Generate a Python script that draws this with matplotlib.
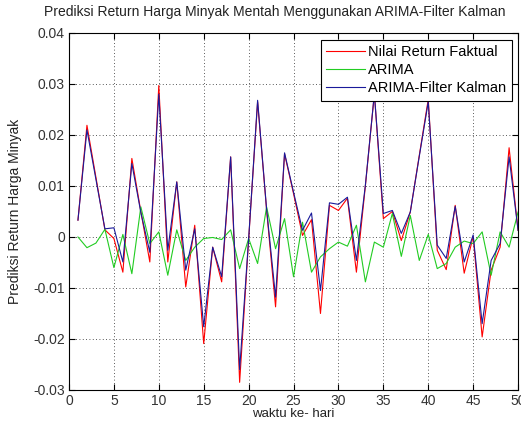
import numpy as np
import matplotlib
matplotlib.use("Agg")
import matplotlib.pyplot as plt

# data
hari = np.arange(1, 51)

faktual = [0.0033, 0.0219, 0.0117, 0.0014, -0.0003, -0.0069, 0.0154, 0.0050, -0.0049, 0.0297,
           -0.0049, 0.0108, -0.0098, 0.0023, -0.0209, -0.0020, -0.0088, 0.0157, -0.0285, -0.0006,
           0.0265, 0.0053, -0.0137, 0.0163, 0.0085, 0.0003, 0.0034, -0.0150, 0.0062, 0.0052,
           0.0076, -0.0069, 0.0100, 0.0281, 0.0036, 0.0050, -0.0007, 0.0049, 0.0160, 0.0270,
           -0.0026, -0.0064, 0.0062, -0.0071, 0.0001, -0.0196, -0.0065, -0.0020, 0.0175, 0.0013]

arima = [0.0000, -0.0021, -0.0012, 0.0015, -0.0060, 0.0005, -0.0072, 0.0059, -0.0013, 0.0010,
         -0.0075, 0.0014, -0.0046, -0.0020, -0.0003, -0.0001, -0.0005, 0.0014, -0.0062, -0.0003,
         -0.0052, 0.0059, -0.0023, 0.0036, -0.0078, 0.0029, -0.0069, -0.0039, -0.0023, -0.0010,
         -0.0018, 0.0023, -0.0088, -0.0010, -0.0020, 0.0046, -0.0038, 0.0042, -0.0046, 0.0005,
         -0.0062, -0.0052, -0.0020, -0.0008, -0.0013, 0.0010, -0.0075, 0.0010, -0.0020, 0.0049]

kalman = [0.0033, 0.0210, 0.0113, 0.0016, 0.0018, -0.0049, 0.0144, 0.0048, -0.0030, 0.0280,
          -0.0026, 0.0108, -0.0065, 0.0016, -0.0176, -0.0020, -0.0078, 0.0157, -0.0260, -0.0004,
          0.0268, 0.0055, -0.0118, 0.0165, 0.0088, 0.0013, 0.0047, -0.0105, 0.0067, 0.0064,
          0.0078, -0.0046, 0.0102, 0.0281, 0.0046, 0.0052, 0.0007, 0.0049, 0.0158, 0.0265,
          -0.0016, -0.0042, 0.0060, -0.0049, 0.0004, -0.0170, -0.0046, -0.0013, 0.0157, 0.0013]

xticks = [0, 5, 10, 15, 20, 25, 30, 35, 40, 45, 50]
yticks = [-0.03, -0.02, -0.01, 0, 0.01, 0.02, 0.03, 0.04]
yticklabels = ["-0.03", "-0.02", "-0.01", "0", "0.01", "0.02", "0.03", "0.04"]

plt.rcParams['font.family'] = ['Liberation Sans', 'DejaVu Sans']

fig = plt.figure(figsize=(5.21, 4.25), dpi=100)
ax = fig.add_axes([0.1324, 0.0824, 0.862, 0.84])

ax.plot(hari, faktual, color='#ff0000', lw=0.8, label='Nilai Return Faktual')
ax.plot(hari, arima, color='#22cc22', lw=0.8, label='ARIMA')
ax.plot(hari, kalman, color='#1a1a9a', lw=0.8, label='ARIMA-Filter Kalman')

ax.set_xlim(0, 50)
ax.set_ylim(-0.03, 0.04)
ax.set_xticks(xticks)
ax.set_yticks(yticks)
ax.set_yticklabels(yticklabels)
ax.tick_params(direction='in', labelsize=10, length=4, top=True, right=True,
               colors='black', labelcolor='#333333', pad=3)
ax.grid(True, linestyle=(0, (1, 3)), color='#222222', lw=0.6)

for s in ax.spines.values():
    s.set_linewidth(0.8)

# judul di tengah gambar, bukan di tengah sumbu
fig.text(0.528, 0.972, "Prediksi Return Harga Minyak Mentah Menggunakan ARIMA-Filter Kalman",
         fontsize=10, ha='center', va='center', color='#222222')
ax.set_xlabel("waktu ke- hari", fontsize=9.5, labelpad=0, color='#222222')
ax.set_ylabel("Prediksi Return Harga Minyak", fontsize=10, labelpad=8, color='#222222')

leg = ax.legend(loc='upper right', fontsize=10.5, fancybox=False, framealpha=1,
                edgecolor='black', handlelength=2.7, handletextpad=0.2,
                borderpad=0.35, labelspacing=0.3, borderaxespad=0.45)
leg.get_frame().set_linewidth(0.8)

plt.savefig("out.png", dpi=100)
